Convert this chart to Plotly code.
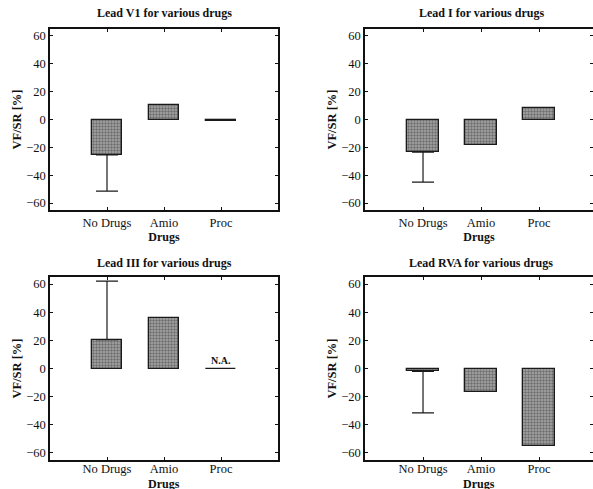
import plotly.graph_objects as go

categories = ["No Drugs", "Amio", "Proc"]
titles = ["Lead V1 for various drugs", "Lead I for various drugs",
          "Lead III for various drugs", "Lead RVA for various drugs"]
x_title = "Drugs"
y_title = "VF/SR [%]"
v1_vals = [-25.5, 10.5, -1.0]
v1_whisk = [-51.5, None, None]
i_vals = [-23.5, -18.0, 8.0]
i_whisk = [-45.0, None, None]
iii_vals = [20.5, 36.0, 0.0]
iii_whisk = [62.0, None, None]
rva_vals = [-2.0, -16.5, -55.0]
rva_whisk = [-31.5, None, None]
y_ticks = [-60, -40, -20, 0, 20, 40, 60]
na_label = "N.A."

series = [(v1_vals, v1_whisk), (i_vals, i_whisk), (iii_vals, iii_whisk), (rva_vals, rva_whisk)]

W, H = 593, 489
# pixel boxes (left, right, top, bottom)
boxes = [(50, 278, 29, 210), (365, 593, 29, 210), (50, 278, 277, 460), (365, 593, 277, 460)]
xranges = [[0, 4], [0, 3.93], [0, 4], [0, 3.93]]
title_cx = [164, 481, 164, 481]
title_gap = [7, 7, 5, 5]

SERIF = "Liberation Serif"
INK = "#111"
fig = go.Figure()
xpos = [1, 2, 3]
for i, ((vals, wh), (l, r, t, b)) in enumerate(zip(series, boxes)):
    n = i + 1
    xa = "x" if n == 1 else f"x{n}"
    ya = "y" if n == 1 else f"y{n}"
    plus = [max(w - v, 0) if w is not None else 0 for v, w in zip(vals, wh)]
    minus = [max(v - w, 0) if w is not None else 0 for v, w in zip(vals, wh)]
    vis = [w is not None for w in wh]
    fig.add_trace(go.Bar(
        x=xpos, y=vals, xaxis=xa, yaxis=ya, width=0.54,
        marker=dict(color="#a0a0a0", line=dict(color="#1a1a1a", width=1.3),
                    pattern=dict(shape=".", fgcolor="#333", bgcolor="#a8a8a8",
                                 size=3, solidity=0.5)),
        showlegend=False,
    ))
    wx = [x for x, v in zip(xpos, vis) if v]
    wy = [y for y, v in zip(vals, vis) if v]
    wp = [p for p, v in zip(plus, vis) if v]
    wm = [m for m, v in zip(minus, vis) if v]
    fig.add_trace(go.Scatter(
        x=wx, y=wy, xaxis=xa, yaxis=ya, mode="markers",
        marker=dict(size=1, color="rgba(0,0,0,0)"),
        error_y=dict(type="data", symmetric=False, array=wp, arrayminus=wm,
                     color="#1a1a1a", thickness=1.2, width=11),
        showlegend=False,
    ))
    axcommon = dict(showline=True, linecolor=INK, linewidth=1.5, mirror="ticks",
                    ticks="inside", ticklen=3, tickcolor=INK, showgrid=False,
                    zeroline=False, automargin=False)
    bottom_row = n > 2
    xdict = dict(
        domain=[l / W, r / W], anchor=ya, range=xranges[i],
        tickvals=xpos, ticktext=categories,
        ticklabelstandoff=-4 if bottom_row else 0,
        tickfont=dict(family=SERIF, size=12.5, color=INK),
        **axcommon)
    if not bottom_row:
        xdict["title"] = dict(text=f"<b>{x_title}</b>", font=dict(family=SERIF, size=12, color=INK),
                              standoff=1)
    fig.layout[f"xaxis{'' if n == 1 else n}"] = xdict
    if bottom_row:
        fig.add_annotation(text=f"<b>{x_title}</b>", xref=f"{xa} domain", yref="paper",
                           x=0.5, y=1 - (b + 15) / H, xanchor="center", yanchor="top",
                           showarrow=False, font=dict(family=SERIF, size=12, color=INK))
    fig.layout[f"yaxis{'' if n == 1 else n}"] = dict(
        domain=[1 - b / H, 1 - t / H], anchor=xa, range=[-65, 65],
        tickvals=y_ticks,
        tickfont=dict(family=SERIF, size=12.5, color=INK),
        title=dict(text=f"<b>{y_title}</b>", font=dict(family=SERIF, size=12.5, color=INK), standoff=2),
        **axcommon)
    fig.add_annotation(text=f"<b>{titles[i]}</b>", xref="paper", yref="paper",
                       x=title_cx[i] / W, y=1 - (t - title_gap[i]) / H, xanchor="center",
                       yanchor="bottom", showarrow=False,
                       font=dict(family=SERIF, size=12, color=INK))

fig.add_annotation(text=f"<b>{na_label}</b>", x=3, y=iii_vals[2], xref="x3", yref="y3",
                   xanchor="center", yanchor="bottom", yshift=1, showarrow=False,
                   font=dict(family=SERIF, size=10, color=INK))

fig.update_layout(width=W, height=H, margin=dict(l=0, r=0, t=0, b=0),
                  paper_bgcolor="white", plot_bgcolor="white", bargap=0)
fig.write_html("out.html", config={"displayModeBar": False},
               post_script="document.body.style.margin='0';")
